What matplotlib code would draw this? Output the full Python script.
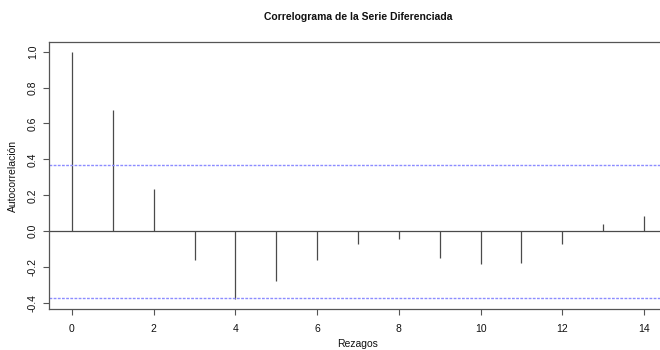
import matplotlib
matplotlib.use("Agg")
import matplotlib.pyplot as plt
import numpy as np

plt.rcParams['font.family'] = ['Liberation Sans', 'DejaVu Sans']

# Autocorrelation of the differenced series by lag
lags = list(range(0, 15))
acf_values = [1.0, 0.675, 0.236, -0.161, -0.378, -0.279, -0.161, -0.069,
              -0.044, -0.146, -0.183, -0.174, -0.069, 0.043, 0.083]
conf_bound = 0.37
x_ticks = [0, 2, 4, 6, 8, 10, 12, 14]
y_ticks = [-0.4, -0.2, 0.0, 0.2, 0.4, 0.6, 0.8, 1.0]
y_tick_labels = ["-0.4", "-0.2", "0.0", "0.2", "0.4", "0.6", "0.8", "1.0"]

W, H = 660, 350
fig = plt.figure(figsize=(W / 100, H / 100), dpi=100)
# plot region in pixel coordinates (left, top, right, bottom)
left, top, right, bottom = 49, 41.7, 667, 309.3
ax = fig.add_axes([left / W, 1 - bottom / H, (right - left) / W, (bottom - top) / H])

line_col = '#4a4a4a'
ax.vlines(lags, 0, acf_values, colors=line_col, linewidth=0.9)
ax.axhline(0, color=line_col, linewidth=0.9)
for b in (conf_bound, -conf_bound):
    ax.axhline(b, color='#8c8cff', linewidth=1.0, linestyle=(0, (2.0, 1.0)))

ax.set_xlim(-0.56, 14.56)
ax.set_ylim(-0.434, 1.055)

ax.set_xticks(x_ticks)
ax.set_xticklabels([str(v) for v in x_ticks])
ax.set_yticks(y_ticks)
ax.set_yticklabels(y_tick_labels, rotation=90, va='center')
ax.tick_params(axis='both', direction='out', length=4.5, width=0.8,
               color='#555555', labelsize=7.5, labelcolor='#111111')
ax.tick_params(axis='x', pad=6)
ax.tick_params(axis='y', pad=3.5)

for sp in ax.spines.values():
    sp.set_color('#555555')
    sp.set_linewidth(0.9)

cx = (left + right) / 2 / W
fig.text(cx, 1 - 17 / H, "Correlograma de la Serie Diferenciada",
         ha='center', va='center', fontsize=7.5, fontweight='bold', color='#111111')
fig.text(cx, 1 - 344 / H, "Rezagos", ha='center', va='center',
         fontsize=7.5, color='#111111')
fig.text(13 / W, 1 - (top + bottom) / 2 / H, "Autocorrelación", ha='center',
         va='center', rotation=90, fontsize=7.5, color='#111111')

fig.savefig("out.png", dpi=100)
